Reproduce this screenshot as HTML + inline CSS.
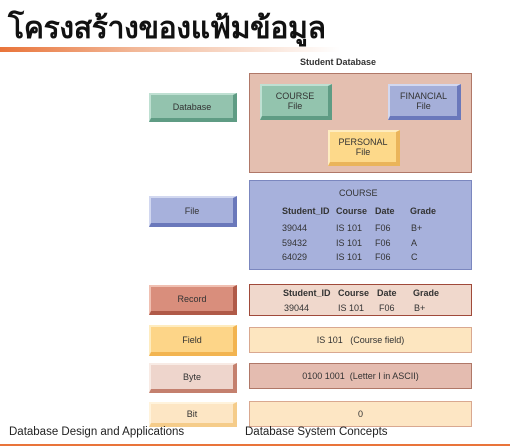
<!DOCTYPE html>
<html><head><meta charset="utf-8"><style>
body{margin:0;width:510px;height:446px;background:#fff;position:relative;overflow:hidden;font-family:"Liberation Sans",Arial,sans-serif}
.a{position:absolute}
.t{font-size:9px;color:#333}
.btn{position:absolute;left:149px;width:88px;box-sizing:border-box;display:flex;align-items:center;justify-content:center;font-size:9px;color:#333;border-style:solid;border-width:2px 4px 4px 2px}
.box{position:absolute;left:249px;width:223px;box-sizing:border-box;border:1.5px solid}
.c{position:absolute;display:flex;align-items:center;justify-content:center;text-align:center;font-size:9px;color:#333;box-sizing:border-box;border-style:solid;border-width:2px 4px 4px 2px;line-height:10px}
</style></head><body>
<div class="a" style="left:8px;top:5px;font-size:30px;font-weight:bold;color:#111;font-family:'Liberation Sans','Noto Sans CJK SC',sans-serif;letter-spacing:-0.3px">โครงสร้างของแฟ้มข้อมูล</div>
<div class="a" style="left:0;top:47px;width:340px;height:5px;background:linear-gradient(90deg,#e9743a,#f2b898 40%,rgba(255,255,255,0))"></div>
<div class="a t" style="left:300px;top:57px;font-weight:bold;font-size:9px">Student Database</div>

<div class="box" style="top:73px;height:100px;background:#e4bfb0;border-color:#b07868"></div>
<div class="c" style="left:260px;top:84px;width:72px;height:36px;background:#93c4ae;border-color:#bfe0d2 #5f9c84 #5f9c84 #bfe0d2">COURSE<br>File</div>
<div class="c" style="left:388px;top:84px;width:73px;height:36px;background:#a5afd9;border-color:#d2d8f0 #6a78bb #6a78bb #d2d8f0">FINANCIAL<br>File</div>
<div class="c" style="left:328px;top:130px;width:72px;height:36px;background:#fdd98a;border-color:#feecc0 #eab45a #eab45a #feecc0">PERSONAL<br>File</div>
<div class="btn" style="top:93px;height:29px;background:#93c3ae;border-color:#bfe0d2 #5f9c84 #5f9c84 #bfe0d2">Database</div>

<div class="box" style="top:180px;height:90px;background:#a7b1dc;border-color:#7b87bf"></div>
<div class="a t" style="left:339px;top:188px">COURSE</div>
<div class="a t" style="left:282px;top:206px;font-weight:bold">Student_ID</div>
<div class="a t" style="left:336px;top:206px;font-weight:bold">Course</div>
<div class="a t" style="left:375px;top:206px;font-weight:bold">Date</div>
<div class="a t" style="left:410px;top:206px;font-weight:bold">Grade</div>
<div class="a t" style="left:282px;top:223px">39044</div><div class="a t" style="left:336px;top:223px">IS 101</div><div class="a t" style="left:375px;top:223px">F06</div><div class="a t" style="left:411px;top:223px">B+</div>
<div class="a t" style="left:282px;top:238px">59432</div><div class="a t" style="left:336px;top:238px">IS 101</div><div class="a t" style="left:375px;top:238px">F06</div><div class="a t" style="left:411px;top:238px">A</div>
<div class="a t" style="left:282px;top:252px">64029</div><div class="a t" style="left:336px;top:252px">IS 101</div><div class="a t" style="left:375px;top:252px">F06</div><div class="a t" style="left:411px;top:252px">C</div>
<div class="btn" style="top:196px;height:31px;background:#a7b1dc;border-color:#d2d8f0 #6a78bb #6a78bb #d2d8f0">File</div>

<div class="box" style="top:284px;height:32px;background:#f0d8cc;border-color:#a04a3a"></div>
<div class="a t" style="left:283px;top:288px;font-weight:bold">Student_ID</div>
<div class="a t" style="left:338px;top:288px;font-weight:bold">Course</div>
<div class="a t" style="left:377px;top:288px;font-weight:bold">Date</div>
<div class="a t" style="left:413px;top:288px;font-weight:bold">Grade</div>
<div class="a t" style="left:284px;top:303px">39044</div><div class="a t" style="left:338px;top:303px">IS 101</div><div class="a t" style="left:379px;top:303px">F06</div><div class="a t" style="left:414px;top:303px">B+</div>
<div class="btn" style="top:285px;height:30px;background:#d98e7c;border-color:#f0c0b2 #b05a48 #b05a48 #f0c0b2">Record</div>

<div class="box c" style="top:327px;height:26px;background:#fde6c0;border-color:#d9a890;border-width:1.5px">IS 101 &nbsp;&nbsp;(Course field)</div>
<div class="btn" style="top:325px;height:31px;background:#fdd588;border-color:#feecc0 #f2b450 #f2b450 #feecc0">Field</div>

<div class="box c" style="top:363px;height:26px;background:#e4bcb0;border-color:#b07868;border-width:1.5px">0100 1001 &nbsp;(Letter I in ASCII)</div>
<div class="btn" style="top:363px;height:30px;background:#eed5cc;border-color:#f8ebe5 #c4806e #c4806e #f8ebe5">Byte</div>

<div class="box c" style="top:401px;height:26px;background:#fde6c4;border-color:#d9a890;border-width:1.5px">0</div>
<div class="btn" style="top:402px;height:25px;background:#fde6c4;border-color:#fff3dc #f5cc8a #f5cc8a #fff3dc">Bit</div>

<div class="a" style="left:9px;top:426px;font-size:11.5px;color:#222;font-family:'Liberation Sans',sans-serif">Database Design and Applications</div>
<div class="a" style="left:245px;top:426px;font-size:11.5px;color:#222;font-family:'Liberation Sans',sans-serif">Database System Concepts</div>
<div class="a" style="left:0;top:444px;width:510px;height:2px;background:#e9743a"></div>
</body></html>
